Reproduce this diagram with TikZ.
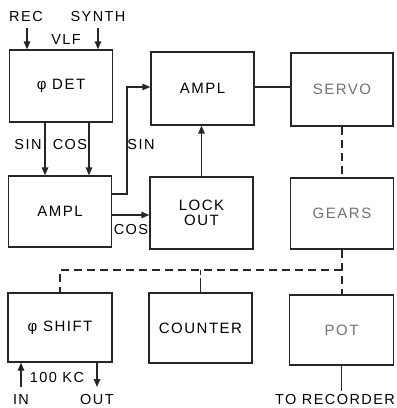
\documentclass[tikz,border=0pt]{standalone}
\usepackage{fontspec}
\setmainfont{Liberation Sans}[LetterSpace=10]
\usetikzlibrary{arrows.meta}
\begin{document}
\begin{tikzpicture}[x=1pt,y=-1pt,
  box/.style={draw=black!85,line width=1.3pt,minimum width=103pt,minimum height=72pt,inner sep=0pt,font=\fontsize{15}{17}\selectfont,align=center},
  gbox/.style={box,text=black!55},
  lbl/.style={inner sep=0pt,font=\fontsize{14.5}{16}\selectfont},
  wire/.style={line width=1.3pt,draw=black!85},
  arr/.style={wire,-{Triangle[length=8pt,width=6.5pt]}},
  dsh/.style={wire,dash pattern=on 8pt off 5pt}]
\useasboundingbox (0,0) rectangle (397,408);
% boxes
\node[box] (det) at (61,86) {φ DET};
\node[box,minimum height=71pt] (ampA) at (60,211.5) {AMPL};
\node[box,minimum height=73pt] (ampB) at (202.5,88.5) {AMPL};
\node[gbox,minimum width=102pt,minimum height=73pt] (servo) at (342,89.5) {SERVO};
\node[box] (lock) at (201.5,213) {LOCK\\[-2pt]OUT};
\node[gbox,minimum height=71pt] (gears) at (342,213.5) {GEARS};
\node[box,minimum width=104pt,minimum height=69pt] (shift) at (60,327.5) {φ SHIFT};
\node[box,minimum height=70pt] (counter) at (200.5,328) {COUNTER};
\node[gbox,minimum width=104pt,minimum height=70pt] (pot) at (341.5,330) {POT};
% labels
\node[lbl] (rec) at (26,17) {REC};
\node[lbl] (synth) at (98,17) {SYNTH};
\node[lbl] (vlf) at (66,40) {VLF};
\node[lbl] (sin1) at (28,145) {SIN};
\node[lbl] (cos1) at (70,145) {COS};
\node[lbl] (sin2) at (141,145) {SIN};
\node[lbl] (cos2) at (131,230) {COS};
\node[lbl] (kc) at (57,378) {100 KC};
\node[lbl] (in) at (21,400) {IN};
\node[lbl] (out) at (97,400) {OUT};
\node[lbl] (torec) at (335,400) {TO RECORDER};
% input arrows
\coordinate (recS) at (27,28);
\coordinate (synS) at (98,28);
\draw[arr] (recS) -- (recS |- det.north);
\draw[arr] (synS) -- (synS |- det.north);
% det -> ampA
\coordinate (xs) at (45,0);
\coordinate (xc) at (89,0);
\draw[arr] (det.south -| xs) -- (ampA.north -| xs);
\draw[arr] (det.south -| xc) -- (ampA.north -| xc);
% SIN route
\coordinate (sinY) at (0,194);
\coordinate (sinX) at (127,0);
\coordinate (ampBin) at (0,87);
\draw[arr] (ampA.east |- sinY) -| (sinX |- ampBin) -- (ampB.west |- ampBin);
% COS
\coordinate (cosY) at (0,215);
\draw[arr] (ampA.east |- cosY) -- (lock.west |- cosY);
% lock -> ampB
\coordinate (lx) at (201.5,0);
\draw[arr] (lock.north -| lx) -- (ampB.south -| lx);
% ampB - servo
\draw[wire] (ampB.east |- ampBin) -- (servo.west |- ampBin);
% dashed mechanical
\coordinate (dY) at (0,270);
\coordinate (jG) at (342,270);
\draw[dsh] (servo.south) -- (gears.north);
\draw[dsh] (gears.south) -- (jG) -- (pot.north -| jG);
\draw[dsh] (jG) -- (shift.north |- dY) -- (shift.north);
\draw[wire,dash pattern=on 14pt off 3pt on 20pt] (counter.north) -- (counter.north |- dY);
% 100 KC in / out
\coordinate (inB) at (21,387);
\coordinate (outB) at (97,387);
\draw[arr] (inB) -- (inB |- shift.south);
\draw[arr] (shift.south -| outB) -- (outB);
% pot to recorder
\coordinate (recB) at (341.5,391);
\draw[wire] (pot.south -| recB) -- (recB);
\end{tikzpicture}
\end{document}
